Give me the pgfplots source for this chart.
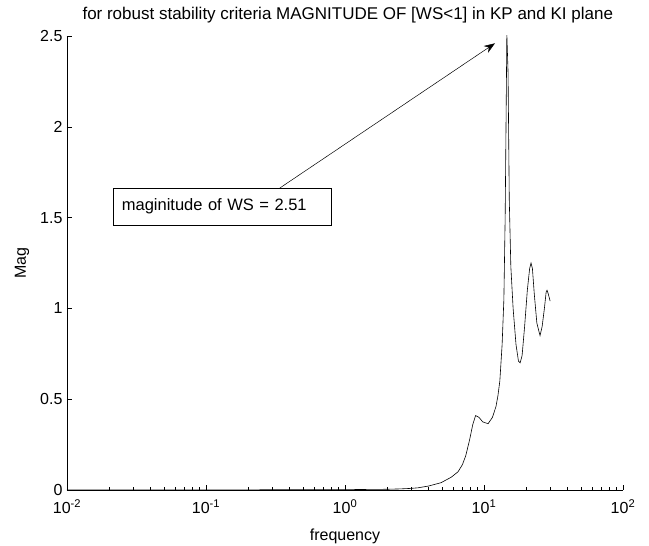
\documentclass[border=0pt]{standalone}
\usepackage{pgfplots}
\pgfplotsset{compat=1.18}
\usepackage{fontspec}
\setmainfont{Liberation Sans}
\usetikzlibrary{calc,arrows.meta}
\begin{document}
\begin{tikzpicture}[x=1pt,y=1pt]
\begin{axis}[
  width=556pt, height=454pt, scale only axis,
  xmode=log, xmin=0.01, xmax=100,
  ymin=0, ymax=2.5,
  axis x line*=bottom, axis y line*=left,
  axis line style={-, line width=0.6pt},
  tick align=inside,
  major tick length=5pt, minor tick length=3pt,
  ytick={0,0.5,1,1.5,2,2.5},
  yticklabels={0,0.5,1,1.5,2,2.5},
  xtick={0.01,0.1,1,10,100},
  xticklabels={10\textsuperscript{-2},10\textsuperscript{-1},10\textsuperscript{0},10\textsuperscript{1},10\textsuperscript{2}},
  /pgf/number format/assume math mode=true,
  tick label style={font=\fontsize{16}{18}\selectfont},
  xticklabel style={yshift=-6pt},
  yticklabel style={xshift=-1pt},
  every tick/.style={black, line width=0.5pt},
  clip=true,
]
\addplot[black, line width=0.6pt] coordinates {
(0.01,0) (0.1,0.0005) (1,0.002) (2,0.004) (2.5,0.006) (3,0.009) (3.35,0.012)
(4,0.022) (4.9,0.04) (5.8,0.07) (6.5,0.1) (7,0.14) (7.4,0.19) (7.9,0.28)
(8.3,0.36) (8.7,0.41) (9.2,0.40) (9.8,0.375) (10.7,0.365) (11.5,0.40)
(12.2,0.46) (12.6,0.52) (13.0,0.6) (13.5,0.8) (13.9,1.05) (14.2,1.5)
(14.4,2.0) (14.6,2.51) (14.9,2.3) (15.2,1.6) (15.6,1.23) (16.2,1.0)
(17,0.8) (17.7,0.71) (18.2,0.70) (18.8,0.74) (19.6,0.9) (20.5,1.1)
(21.3,1.22) (21.8,1.25) (22.3,1.22) (23,1.08) (24,0.92) (25.3,0.85)
(26.2,0.9) (27.2,1.0) (28,1.09) (28.4,1.10) (29,1.08) (29.9,1.04)
};
\coordinate (sw) at (rel axis cs:0,0);
\coordinate (ne) at (rel axis cs:1,1);
\draw[-{Stealth[length=11pt,width=8pt]}, line width=0.5pt] (axis cs:0.34,1.663) -- (axis cs:12.0,2.46);
\node[draw=black, fill=white, line width=0.5pt, text width=200pt, inner xsep=9pt, align=left,
  minimum height=37pt, inner ysep=0pt,
  font=\fontsize{16.5}{18}\selectfont] at (axis cs:0.13,1.561) {maginitude of WS = 2.51};
\end{axis}
\node[font=\fontsize{17}{19}\selectfont] at ($(sw)!0.505!(sw-|ne)+(0,475pt)$) {for robust stability criteria MAGNITUDE OF [WS<1] in KP and KI plane};
\node[font=\fontsize{16}{18}\selectfont] at ($(sw)!0.5!(sw-|ne)+(0,-46pt)$) {frequency};
\node[font=\fontsize{16}{18}\selectfont, rotate=90] at ($(sw)+(-45pt,227pt)$) {Mag};
\pgfresetboundingbox
\path[use as bounding box] ($(sw)+(-67pt,-56pt)$) rectangle ($(ne)+(26pt,36pt)$);
\end{tikzpicture}
\end{document}
